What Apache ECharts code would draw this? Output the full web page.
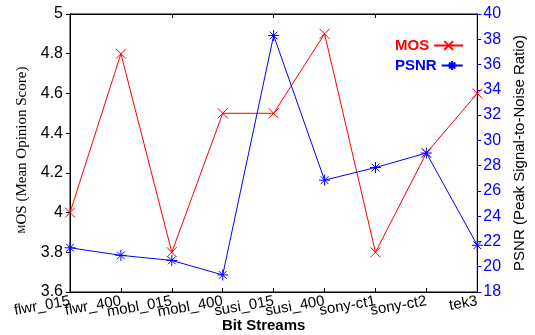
<!DOCTYPE html>
<html>
<head>
<meta charset="utf-8">
<script src="https://cdn.jsdelivr.net/npm/echarts@6/dist/echarts.min.js"></script>
<style>html,body{margin:0;padding:0;background:#fff}#c{width:535px;height:335px}</style>
</head>
<body>
<div id="c"></div>
<script>
var categories = ['flwr_015','flwr_400','mobl_015','mobl_400','susi_015','susi_400','sony-ct1','sony-ct2','tek3'];
var mosValues = [4.0, 4.8, 3.8, 4.5, 4.5, 4.9, 3.8, 4.3, 4.6];
var psnrValues = [21.5, 20.9, 20.5, 19.35, 38.3, 26.85, 27.85, 29.0, 21.7];
var mosTicks = {min: 3.6, max: 5, interval: 0.2};
var psnrTicks = {min: 18, max: 40, interval: 2};

var xMark = 'path://M0,0L10,10M10,0L0,10';
var starMark = 'path://M5,0L5,10M0,5L10,5M1.5,1.5L8.5,8.5M8.5,1.5L1.5,8.5';
var FONT = 'Liberation Sans';

var chart = echarts.init(document.getElementById('c'), null, {renderer: 'canvas'});
chart.setOption({
  animation: false,
  backgroundColor: '#fff',
  grid: {left: 70, right: 41, top: 14, bottom: 43, show: true, borderColor: '#000', borderWidth: 1, containLabel: false},
  title: {
    text: 'Bit Streams', left: 222, top: 318, padding: 0,
    textStyle: {fontFamily: FONT, fontWeight: 'bold', fontSize: 15, color: '#000'}
  },
  legend: [
    {data: ['MOS'], left: 395, top: 38, padding: 0, align: 'right', itemWidth: 29, itemHeight: 11,
     textStyle: {fontFamily: FONT, fontWeight: 'bold', fontSize: 15, color: '#ff0000'}},
    {data: ['PSNR'], left: 395, top: 58, padding: 0, align: 'right', itemWidth: 21, itemHeight: 11,
     textStyle: {fontFamily: FONT, fontWeight: 'bold', fontSize: 15, color: '#0000ff'}}
  ],
  xAxis: [{
    type: 'category', data: categories, boundaryGap: false, position: 'bottom',
    axisLine: {lineStyle: {color: '#000', width: 1}},
    axisTick: {inside: true, length: 4, lineStyle: {color: '#000'}},
    axisLabel: {rotate: 10, margin: 9, fontFamily: FONT, fontSize: 15, color: '#000', interval: 0},
    splitLine: {show: false}
  }, {
    type: 'category', data: categories, boundaryGap: false, position: 'top',
    axisLine: {lineStyle: {color: '#000', width: 1}},
    axisTick: {inside: true, length: 4, lineStyle: {color: '#000'}},
    axisLabel: {show: false},
    splitLine: {show: false}
  }],
  yAxis: [{
    type: 'value', position: 'left', min: mosTicks.min, max: mosTicks.max, interval: mosTicks.interval,
    name: '{s|M}OS (Mean Opinion Score)', nameLocation: 'middle', nameGap: 30,
    nameTextStyle: {fontFamily: 'Liberation Serif', fontSize: 15, color: '#000', padding: [0, 0, 0, 6],
      rich: {s: {fontFamily: 'Liberation Serif', fontSize: 10, color: '#000'}}},
    axisLine: {show: true, lineStyle: {color: '#000'}},
    axisTick: {show: true, inside: false, length: 4, lineStyle: {color: '#000'}},
    axisLabel: {margin: 7, fontFamily: FONT, fontSize: 16, color: '#000'},
    splitLine: {show: false}
  }, {
    type: 'value', position: 'right', min: psnrTicks.min, max: psnrTicks.max, interval: psnrTicks.interval,
    name: 'PSNR (Peak Signal-to-Noise Ratio)', nameLocation: 'middle', nameGap: 25,
    nameTextStyle: {fontFamily: FONT, fontSize: 15, color: '#000'},
    axisLine: {show: true, lineStyle: {color: '#000'}},
    axisTick: {show: true, inside: false, length: 4, lineStyle: {color: '#0000ff'}},
    axisLabel: {margin: 6, fontFamily: FONT, fontSize: 16, color: '#0000ff'},
    splitLine: {show: false}
  }],
  series: [{
    name: 'MOS', type: 'line', xAxisIndex: 0, yAxisIndex: 0, data: mosValues,
    symbol: xMark, symbolSize: 10, showAllSymbol: true,
    lineStyle: {color: '#ff0000', width: 1},
    itemStyle: {color: '#ff0000', borderColor: '#ff0000', borderWidth: 1}
  }, {
    name: 'PSNR', type: 'line', xAxisIndex: 0, yAxisIndex: 1, data: psnrValues,
    symbol: starMark, symbolSize: 11, showAllSymbol: true,
    lineStyle: {color: '#0000ff', width: 1},
    itemStyle: {color: '#0000ff', borderColor: '#0000ff', borderWidth: 1}
  }]
});
</script>
</body>
</html>
